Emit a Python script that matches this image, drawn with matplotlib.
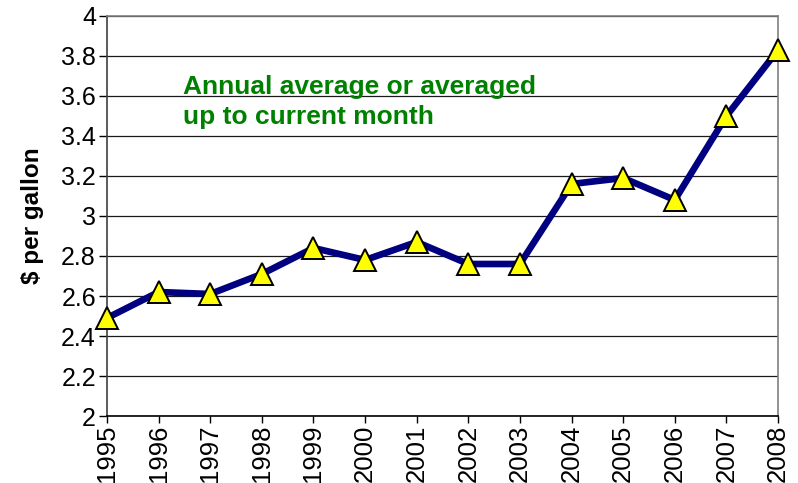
import matplotlib

matplotlib.use("Agg")
import matplotlib.pyplot as plt

plt.rcParams["font.family"] = ["Liberation Sans", "DejaVu Sans"]

# Annual average gasoline price
years = [1995, 1996, 1997, 1998, 1999, 2000, 2001,
         2002, 2003, 2004, 2005, 2006, 2007, 2008]
price = [2.49, 2.62, 2.61, 2.71, 2.84, 2.78, 2.87,
         2.76, 2.76, 3.16, 3.19, 3.08, 3.50, 3.83]
y_ticks = [2, 2.2, 2.4, 2.6, 2.8, 3, 3.2, 3.4, 3.6, 3.8, 4]
y_tick_labels = ["2", "2.2", "2.4", "2.6", "2.8", "3", "3.2", "3.4", "3.6", "3.8", "4"]
note = "Annual average or averaged\nup to current month"

fig = plt.figure(figsize=(7.98, 4.83), dpi=100)
ax = fig.add_axes([0.1341, 0.1387, 0.975 - 0.1341, 0.9669 - 0.1387])

ax.set_xlim(years[0], years[-1])
ax.set_ylim(2, 4)
ax.set_yticks(y_ticks)
ax.set_yticklabels(y_tick_labels)
ax.set_xticks(years)
ax.set_xticklabels([str(y) for y in years], rotation=90)

ax.grid(axis="y", color="#1a1a1a", linewidth=0.9)
ax.set_axisbelow(True)

ax.plot(years, price, color="#000080", linewidth=4.8, zorder=3,
        marker="^", markersize=16, markerfacecolor="#ffff00",
        markeredgecolor="black", markeredgewidth=1.4, clip_on=False)

ax.tick_params(axis="y", direction="out", length=6, width=1, labelsize=18, pad=2)
ax.tick_params(axis="x", direction="out", length=5, width=1, labelsize=18.5, pad=1)

ax.spines["left"].set_color("#404040")
ax.spines["bottom"].set_color("black")
ax.spines["top"].set_color("#808080")
ax.spines["right"].set_color("#808080")
for s in ax.spines.values():
    s.set_linewidth(1.2)

ax.set_ylabel("$ per gallon", fontsize=17.5, fontweight="bold", labelpad=12)

ax.text(0.113, 0.852, note, transform=ax.transAxes, color="#008000",
        fontsize=19, fontweight="bold", va="top", ha="left", linespacing=1.3)

fig.savefig("out.png", dpi=100)
